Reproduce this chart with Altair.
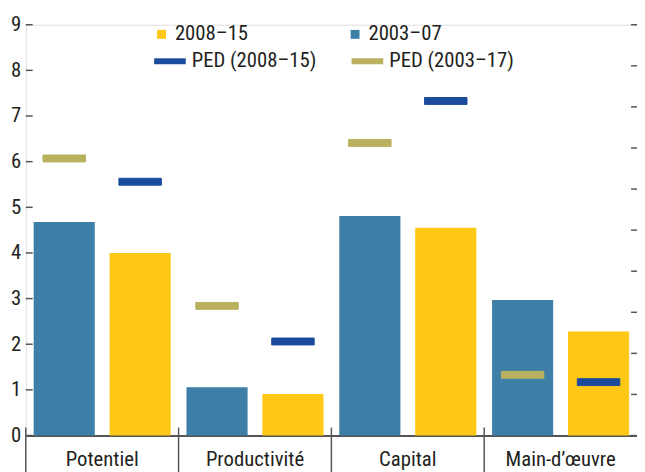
import altair as alt
import pandas as pd

categories = ["Potentiel", "Productivité", "Capital", "Main-d’œuvre"]
bar_series = ["2003–07", "2008–15"]
bar_2003_07 = [4.68, 1.06, 4.81, 2.97]
bar_2008_15 = [4.00, 0.91, 4.55, 2.28]
ped_series = ["PED (2003–17)", "PED (2008–15)"]
ped_2003_17 = [6.07, 2.84, 6.41, 1.33]
ped_2008_15 = [5.56, 2.06, 7.33, 1.17]
left_tick_values = [0, 1, 2, 3, 4, 5, 6, 7, 8, 9]
right_tick_values = [0, 1, 2, 3, 4, 5, 6, 7, 8, 9, 10]

FONT = "Liberation Sans Narrow, Arial Narrow, Roboto Condensed, Roboto, sans-serif"
TXT = "#231F20"
BLUE = "#3D7FA6"
YELLOW = "#FFC815"
OLIVE = "#B9B15F"
NAVY = "#1A4B9C"
GREY = "#555555"

W, H = 619, 416

bars_df = pd.DataFrame(
    [{"cat": c, "series": bar_series[0], "pos": "a", "v": v} for c, v in zip(categories, bar_2003_07)]
    + [{"cat": c, "series": bar_series[1], "pos": "b", "v": v} for c, v in zip(categories, bar_2008_15)]
)
ped_df = pd.DataFrame(
    [{"cat": c, "ped": ped_series[0], "pos": "a", "v": v} for c, v in zip(categories, ped_2003_17)]
    + [{"cat": c, "ped": ped_series[1], "pos": "b", "v": v} for c, v in zip(categories, ped_2008_15)]
)
ped_df["pedfill"] = ped_df["ped"]
lt_df = pd.DataFrame({"v": left_tick_values})
rt_df = pd.DataFrame({"v": right_tick_values})
sep_df = pd.DataFrame({"cat": categories})

yscale = alt.Scale(domain=[0, 9], nice=False, zero=True)
xscale = alt.Scale(paddingInner=0, paddingOuter=0)
xoff_scale = alt.Scale(domain=["a", "b"], paddingInner=15 / 77, paddingOuter=8 / 77)

x_enc = alt.X(
    "cat:N", sort=categories, scale=xscale,
    axis=alt.Axis(title=None, labelAngle=0, ticks=False, domain=True, domainColor=GREY,
                  domainWidth=2, labelPadding=13, labelFont=FONT, labelFontSize=21,
                  labelColor=TXT, grid=False),
)

bars = alt.Chart(bars_df).mark_bar().encode(
    x=x_enc,
    xOffset=alt.XOffset("pos:N", scale=xoff_scale),
    y=alt.Y("v:Q", scale=yscale,
            axis=alt.Axis(title=None, values=left_tick_values, ticks=False, domain=False, grid=False,
                          labelFont=FONT, labelFontSize=21, labelColor=TXT, labelPadding=5)),
    color=alt.Color(
        "series:N",
        scale=alt.Scale(domain=["2008–15", "2003–07"], range=[YELLOW, BLUE]),
        legend=alt.Legend(title=None, orient="none", legendX=127, legendY=-1, direction="horizontal",
                          columns=2, columnPadding=97, symbolType="square", symbolSize=81,
                          symbolStrokeWidth=0, labelOffset=3, labelFont=FONT, labelFontSize=21,
                          labelColor=TXT, padding=0),
    ),
)

ped_legend_domain = ["PED (2008–15)", "PED (2003–17)"]
markers = alt.Chart(ped_df).mark_tick(size=43, thickness=7, strokeWidth=1, opacity=1).encode(
    x=alt.X("cat:N", sort=categories, scale=xscale),
    xOffset=alt.XOffset("pos:N", scale=xoff_scale),
    y=alt.Y("v:Q", scale=yscale),
    fill=alt.Fill("pedfill:N", scale=alt.Scale(domain=ped_series, range=[OLIVE, NAVY]), legend=None),
    stroke=alt.Stroke(
        "ped:N",
        scale=alt.Scale(domain=ped_legend_domain, range=[NAVY, OLIVE]),
        legend=alt.Legend(title=None, orient="none", legendX=127, legendY=18, direction="horizontal",
                          columns=2, columnPadding=23, symbolType="stroke", symbolSize=1024,
                          symbolStrokeWidth=6, symbolOpacity=1, labelOffset=3, labelFont=FONT,
                          labelFontSize=21, labelColor=TXT, padding=0),
    ),
)

left_ticks = alt.Chart(lt_df).mark_rule(color=GREY, strokeWidth=1.5).encode(
    y=alt.Y("v:Q", scale=yscale),
    x=alt.value(0), x2=alt.value(7),
)

separators = alt.Chart(sep_df).mark_rule(color=GREY, strokeWidth=1.5).encode(
    x=alt.X("cat:N", sort=categories, scale=xscale, bandPosition=0),
    y=alt.value(H - 8), y2=alt.value(H + 40),
)

base = alt.layer(bars, markers, left_ticks, separators)

right_ticks = alt.Chart(rt_df).mark_rule(color=GREY, strokeWidth=1.5).encode(
    y=alt.Y("v:Q", scale=alt.Scale(domain=[0, 10], nice=False), axis=None),
    x=alt.value(W - 6), x2=alt.value(W),
)

chart = alt.layer(base, right_ticks).resolve_scale(y="independent").properties(
    width=W, height=H,
    padding={"left": 18, "top": 14, "right": 0, "bottom": 34},
    autosize=alt.AutoSizeParams(type="none"),
).configure_view(stroke=None).configure(background="white")

chart.save("out.html", embed_options={"renderer": "svg", "actions": False})
